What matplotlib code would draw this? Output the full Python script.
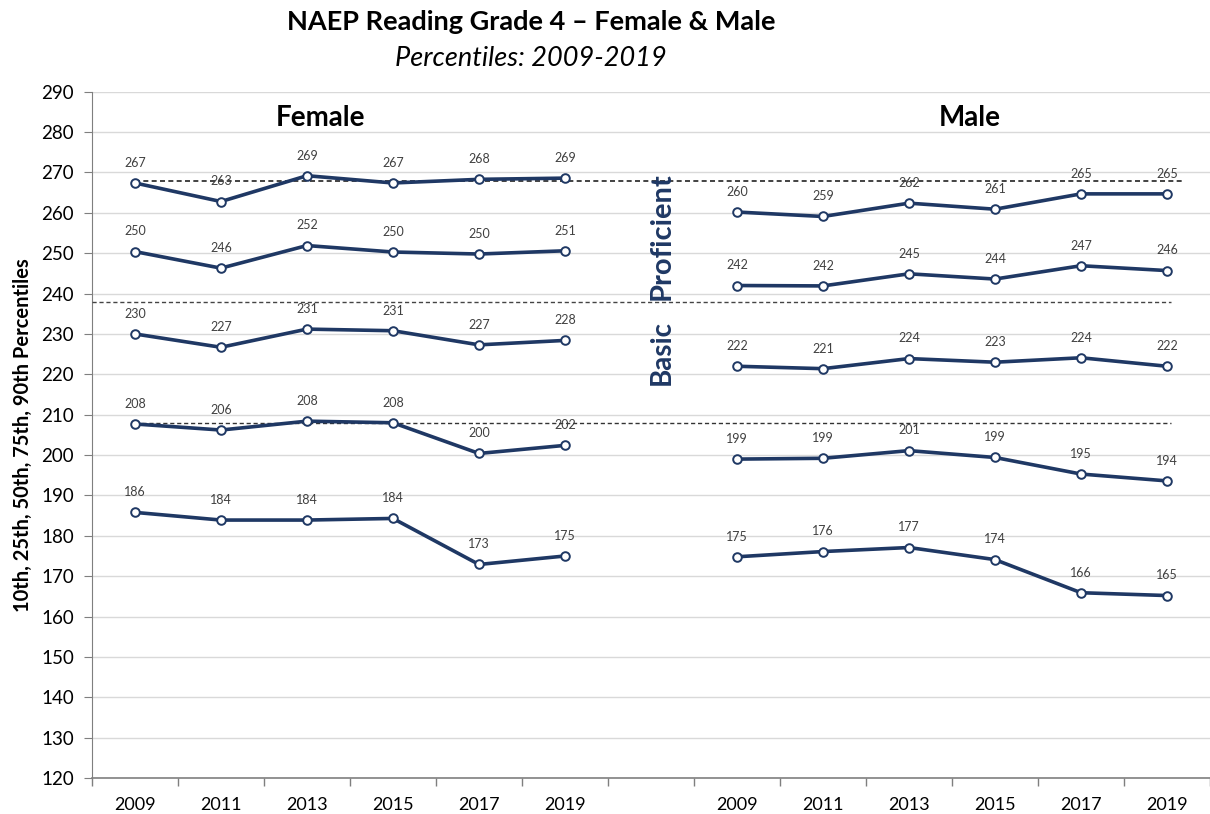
import matplotlib
matplotlib.use("Agg")
import matplotlib.pyplot as plt
import numpy as np

plt.rcParams['font.family'] = ['Lato', 'DejaVu Sans']

years = ["2009", "2011", "2013", "2015", "2017", "2019"]

female_p90 = [267.4, 262.8, 269.2, 267.4, 268.3, 268.6]
female_p75 = [250.4, 246.3, 251.9, 250.3, 249.8, 250.6]
female_p50 = [230.0, 226.7, 231.2, 230.8, 227.3, 228.4]
female_p25 = [207.7, 206.2, 208.4, 208.0, 200.4, 202.4]
female_p10 = [185.8, 183.9, 183.9, 184.3, 172.9, 175.0]

male_p90 = [260.2, 259.1, 262.4, 260.9, 264.7, 264.7]
male_p75 = [242.0, 241.9, 244.9, 243.6, 246.9, 245.7]
male_p50 = [222.0, 221.4, 223.9, 223.0, 224.1, 222.0]
male_p25 = [199.0, 199.2, 201.1, 199.4, 195.3, 193.6]
male_p10 = [174.8, 176.1, 177.1, 174.1, 165.9, 165.2]

female_series = [female_p90, female_p75, female_p50, female_p25, female_p10]
male_series = [male_p90, male_p75, male_p50, male_p25, male_p10]

cut_advanced = 268
cut_proficient = 238
cut_basic = 208

navy = "#1F3864"
label_color = "#404040"

fig = plt.figure(figsize=(12.1, 8.14), dpi=100)
ax = fig.add_axes([0.076, 0.0442, 0.924, 0.8431])

x_f = np.arange(len(years))
x_m = np.arange(len(years)) + len(years) + 1

for xs, group in ((x_f, female_series), (x_m, male_series)):
    for vals in group:
        ax.plot(xs, vals, color=navy, lw=2.6, marker='o', ms=6.2,
                mfc='white', mec=navy, mew=1.4, zorder=4,
                solid_joinstyle='round')
        for xi, v in zip(xs, vals):
            ax.annotate(f"{round(v)}", (xi, v), xytext=(0, 14.5),
                        textcoords='offset points', ha='center', va='center',
                        fontsize=9, color=label_color, zorder=5)

# cut score dashed lines
ax.hlines(cut_advanced, 0, x_m[-1] + 0.2, colors='#222222', linestyles=(0, (3, 2)), lw=1.2, zorder=3)
ax.hlines(cut_proficient, -0.5, x_m[-1] + 0.05, colors='#444444', linestyles=(0, (3, 2)), lw=1.0, zorder=3)
ax.hlines(cut_basic, 0, x_m[-1] + 0.05, colors='#333333', linestyles=(0, (3, 2)), lw=1.0, zorder=3)

ax.set_xlim(-0.5, 12.41)
ax.set_ylim(120, 290)
ax.set_yticks(np.arange(120, 291, 10))
ax.yaxis.grid(True, color='#D9D9D9', lw=1.0)
ax.set_axisbelow(True)

ax.set_xticks(list(x_f) + list(x_m))
ax.set_xticklabels(years + years, fontsize=13)
ax.set_xticks(np.arange(-0.5, 13, 1), minor=True)
ax.tick_params(axis='x', which='major', length=0, pad=14)
ax.tick_params(axis='x', which='minor', length=6, color='#7F7F7F', width=1)
ax.tick_params(axis='y', length=6, color='#7F7F7F', labelsize=13.5, pad=7)

for s in ['top', 'right']:
    ax.spines[s].set_visible(False)
ax.spines['left'].set_color('#7F7F7F')
ax.spines['bottom'].set_color('#7F7F7F')
ax.spines['bottom'].set_linewidth(1.2)

ax.set_ylabel("10th, 25th, 50th, 75th, 90th Percentiles", fontsize=14.5,
              fontweight='bold', labelpad=6)

ax.text(2.16, 283.5, "Female", ha='center', va='center', fontsize=20, fontweight='bold')
ax.text(9.71, 283.5, "Male", ha='center', va='center', fontsize=20, fontweight='bold')

ax.text(6.12, 254.3, "Proficient", rotation=90, ha='center', va='center',
        fontsize=21, fontweight='bold', color=navy)
ax.text(6.12, 225.3, "Basic", rotation=90, ha='center', va='center',
        fontsize=20, fontweight='bold', color=navy)

fig.text(531/1210, 1 - 22/814, "NAEP Reading Grade 4 \u2013 Female & Male",
         ha='center', va='center', fontsize=19.5, fontweight='bold')
fig.text(531/1210, 1 - 58/814, "Percentiles: 2009-2019",
         ha='center', va='center', fontsize=19.5, style='italic')

fig.savefig("out.png", dpi=100)
